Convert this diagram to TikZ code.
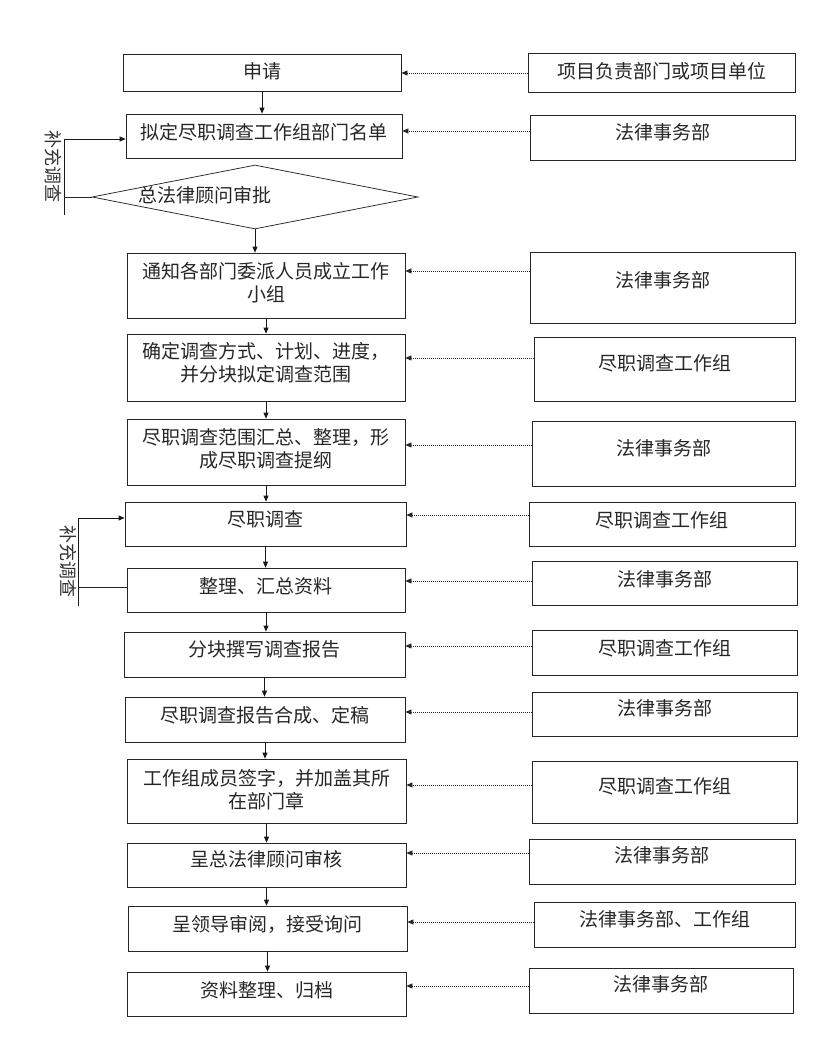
\documentclass[tikz,border=0pt]{standalone}
\usepackage{fontspec}
\setmainfont{Noto Sans CJK SC}
\usetikzlibrary{shapes.geometric,arrows.meta,calc}
\begin{document}
\begin{tikzpicture}[x=1pt,y=-1pt,
  box/.style={draw=black!85, line width=0.75pt, inner sep=0pt},
  txt/.style={inner sep=0pt, font=\fontsize{19}{23}\selectfont, align=center, text=black!85},
  vtxt/.style={inner sep=0pt, font=\fontsize{18}{20}\selectfont, rotate=-90, text=black!80},
  arr/.style={draw=black!90, line width=0.75pt, -{Triangle[length=6pt,width=5pt]}},
  dotarr/.style={draw=black!85, line width=0.75pt, dash pattern=on 1pt off 1pt, -{Triangle[length=6pt,width=5pt]}},
  fbline/.style={draw=black!85, line width=0.75pt},
  dia/.style={draw=black!85, line width=0.75pt, diamond, aspect=5.1, inner sep=0pt, minimum width=326pt, minimum height=64pt}
]
\useasboundingbox (0,0) rectangle (840,1058);

% ---------- main column ----------
\node[box, minimum width=278pt, minimum height=37pt] (b1) at (262,72.5) {};
\node[box, minimum width=276pt, minimum height=44pt] (b2) at (264,136) {};
\node[dia] (d) at (255,197) {};
\node[box, minimum width=278pt, minimum height=65pt] (b4) at (266,285.5) {};
\node[box, minimum width=278pt, minimum height=67pt] (b5) at (266,367.5) {};
\node[box, minimum width=278pt, minimum height=66pt] (b6) at (266,452) {};
\node[box, minimum width=281pt, minimum height=44pt] (b7) at (265.5,524) {};
\node[box, minimum width=278pt, minimum height=44pt] (b8) at (266,590) {};
\node[box, minimum width=281pt, minimum height=45pt] (b9) at (264.5,654.5) {};
\node[box, minimum width=280pt, minimum height=45pt] (b10) at (265,719.5) {};
\node[box, minimum width=279pt, minimum height=64pt] (b11) at (266.5,791) {};
\node[box, minimum width=279pt, minimum height=44pt] (b12) at (266.5,865) {};
\node[box, minimum width=279pt, minimum height=45pt] (b13) at (267.5,928.5) {};
\node[box, minimum width=279pt, minimum height=44pt] (b14) at (266.5,994) {};

\node[txt] (t1) at ($(b1.center)+(0,-1)$) {申请};
\node[txt] (t2) at ($(b2.center)+(0,-4)$) {拟定尽职调查工作组部门名单};
\node[txt] (td) at (205,195) {总法律顾问审批};
\node[txt] (t4) at ($(b4.center)+(0,-3)$) {通知各部门委派人员成立工作\\小组};
\node[txt] (t5) at ($(b5.center)+(0,-5)$) {确定调查方式、计划、进度，\\并分块拟定调查范围};
\node[txt] (t6) at ($(b6.center)+(0,-3)$) {尽职调查范围汇总、整理，形\\成尽职调查提纲};
\node[txt] (t7) at ($(b7.center)+(0,-5)$) {尽职调查};
\node[txt] (t8) at ($(b8.center)+(0,-4)$) {整理、汇总资料};
\node[txt] (t9) at ($(b9.center)+(0,-5)$) {分块撰写调查报告};
\node[txt] (t10) at ($(b10.center)+(0,-4)$) {尽职调查报告合成、定稿};
\node[txt] (t11) at ($(b11.center)+(0,-1)$) {工作组成员签字，并加盖其所\\在部门章};
\node[txt] (t12) at ($(b12.center)+(0,-6)$) {呈总法律顾问审核};
\node[txt] (t13) at ($(b13.center)+(0,-4)$) {呈领导审阅，接受询问};
\node[txt] (t14) at ($(b14.center)+(0,-4)$) {资料整理、归档};

% ---------- right column ----------
\node[box, minimum width=267pt, minimum height=39pt] (r1) at (661.5,72.5) {};
\node[box, minimum width=265pt, minimum height=45pt] (r2) at (662.5,137.5) {};
\node[box, minimum width=265pt, minimum height=71pt] (r4) at (662.5,287.5) {};
\node[box, minimum width=261pt, minimum height=64pt] (r5) at (664.5,369) {};
\node[box, minimum width=263pt, minimum height=65pt] (r6) at (663.5,453.5) {};
\node[box, minimum width=266pt, minimum height=44pt] (r7) at (662,524) {};
\node[box, minimum width=265pt, minimum height=44pt] (r8) at (664.5,583) {};
\node[box, minimum width=265pt, minimum height=45pt] (r9) at (664.5,652.5) {};
\node[box, minimum width=265pt, minimum height=44pt] (r10) at (664.5,714) {};
\node[box, minimum width=265pt, minimum height=62pt] (r11) at (664.5,792) {};
\node[box, minimum width=266pt, minimum height=45pt] (r12) at (662,861.5) {};
\node[box, minimum width=261pt, minimum height=45pt] (r13) at (664.5,924.5) {};
\node[box, minimum width=264pt, minimum height=45pt] (r14) at (661,990.5) {};

\node[txt] (s1) at ($(r1.center)+(0,-1)$) {项目负责部门或项目单位};
\node[txt] (s2) at ($(r2.center)+(0,-5)$) {法律事务部};
\node[txt] (s4) at ($(r4.center)+(0,-7)$) {法律事务部};
\node[txt] (s5) at ($(r5.center)+(0,-6)$) {尽职调查工作组};
\node[txt] (s6) at ($(r6.center)+(0,-5)$) {法律事务部};
\node[txt] (s7) at ($(r7.center)+(0,-4)$) {尽职调查工作组};
\node[txt] (s8) at ($(r8.center)+(0,-4)$) {法律事务部};
\node[txt] (s9) at ($(r9.center)+(0,-4)$) {尽职调查工作组};
\node[txt] (s10) at ($(r10.center)+(0,-6)$) {法律事务部};
\node[txt] (s11) at ($(r11.center)+(0,-6)$) {尽职调查工作组};
\node[txt] (s12) at ($(r12.center)+(0,-6)$) {法律事务部};
\node[txt] (s13) at ($(r13.center)+(0,-5)$) {法律事务部、工作组};
\node[txt] (s14) at ($(r14.center)+(0,-6)$) {法律事务部};

% ---------- main flow arrows ----------
\draw[arr] (b1.south) -- (b1.south |- b2.north);
\draw[arr] (d.south) -- (d.south |- b4.north);
\draw[arr] (b4.south) -- (b4.south |- b5.north);
\draw[arr] (b5.south) -- (b5.south |- b6.north);
\draw[arr] (b6.south) -- (b6.south |- b7.north);
\draw[arr] (b7.south) -- (b7.south |- b8.north);
\draw[arr] (b8.south) -- (b8.south |- b9.north);
\draw[arr] (b9.south) -- (b9.south |- b10.north);
\draw[arr] (b10.south) -- (b10.south |- b11.north);
\draw[arr] (b11.south) -- (b11.south |- b12.north);
\draw[arr] (b12.south) -- (b12.south |- b13.north);
\draw[arr] (b13.south) -- (b13.south |- b14.north);

% ---------- dotted arrows from the right column ----------
\draw[dotarr] (r1.west |- 0,73) -- (b1.east |- 0,73);
\draw[dotarr] (r2.west |- 0,131) -- (b2.east |- 0,131);
\draw[dotarr] (r4.west |- 0,271) -- (b4.east |- 0,271);
\draw[dotarr] (r5.west |- 0,358) -- (b5.east |- 0,358);
\draw[dotarr] (r6.west |- 0,445) -- (b6.east |- 0,445);
\draw[dotarr] (r7.west |- 0,515) -- (b7.east |- 0,515);
\draw[dotarr] (r8.west |- 0,581) -- (b8.east |- 0,581);
\draw[dotarr] (r9.west |- 0,646) -- (b9.east |- 0,646);
\draw[dotarr] (r10.west |- 0,712) -- (b10.east |- 0,712);
\draw[dotarr] (r11.west |- 0,785) -- (b11.east |- 0,785);
\draw[dotarr] (r12.west |- 0,853) -- (b12.east |- 0,853);
\draw[dotarr] (r13.west |- 0,922) -- (b13.east |- 0,922);
\draw[dotarr] (r14.west |- 0,986) -- (b14.east |- 0,986);

% ---------- feedback loops ----------
\coordinate (fa1) at (64,215);
\draw[arr] (fa1) |- (b2.west |- 0,139);
\draw[fbline] (d.west) -- (d.west -| fa1);
\node[vtxt] (c1) at (53,166) {补充调查};

\coordinate (fa2) at (78,606);
\draw[arr] (fa2) |- (b7.west |- 0,518);
\draw[fbline] (b8.west |- 0,587) -- (fa2 |- 0,587);
\node[vtxt] (c2) at (68,561) {补充调查};
\end{tikzpicture}
\end{document}
